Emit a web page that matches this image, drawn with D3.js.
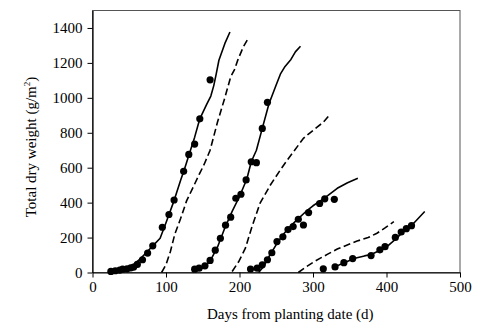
<!DOCTYPE html>
<html><head><meta charset="utf-8">
<script src="https://cdn.jsdelivr.net/npm/d3@7"></script>
<style>body{margin:0;background:#fff} svg text{font-family:'Liberation Serif','Times New Roman',serif}</style>
</head><body>
<svg id="c" width="496" height="330"></svg>
<script>
const xTicks = [0,100,200,300,400,500];
const yTicks = [0,200,400,600,800,1000,1200,1400];
const xTitle = "Days from planting date (d)";
const yTitle = "Total dry weight (g/m";

const obs1 = [[25,6],[31,10],[37,14],[41,19],[47,21],[52,27],[56,31],[61,46],[68,73],[75,111],[82,153],[95,259],[104,332],[111,415],[124,579],[131,676],[139,735],[146,880],[160,1103]];
const obs2 = [[139,19],[145,25],[153,38],[160,69],[167,128],[174,196],[181,271],[188,317],[195,425],[202,448],[209,530],[216,634],[223,629],[231,825],[238,974]];
const obs3 = [[215,20],[224,25],[231,44],[238,73],[244,113],[251,177],[259,204],[266,246],[273,263],[280,305],[287,272],[294,343],[309,395],[316,422],[329,419]];
const obs4 = [[314,21],[330,32],[342,56],[354,80],[379,97],[391,130],[398,148],[412,201],[420,232],[427,251],[434,268]];

const sim1 = [[25,0],[35,8],[45,20],[55,42],[65,78],[75,122],[85,165],[92,196],[100,285],[110,400],[120,530],[125,590],[131,670],[139,775],[146,880],[155,960],[161,1010],[165,1070],[168,1130],[172,1215],[180,1310],[187,1377]];
const dash1 = [[94,0],[100,45],[106,120],[112,220],[120,310],[128,410],[136,480],[145,560],[152,620],[160,700],[170,860],[180,1000],[188,1120],[193,1160],[198,1220],[205,1290],[211,1334]];
const sim2 = [[140,5],[150,25],[160,65],[170,145],[180,255],[190,350],[200,435],[210,535],[216,634],[223,700],[231,825],[240,965],[250,1075],[256,1139],[262,1180],[270,1220],[276,1263],[283,1295]];
const dash2 = [[190,6],[199,63],[208,139],[217,263],[228,397],[242,501],[256,590],[265,644],[275,700],[287,768],[296,800],[306,834],[314,860],[321,895]];
const sim3 = [[226,0],[232,30],[240,90],[250,160],[260,220],[270,268],[280,308],[290,348],[300,382],[310,410],[320,440],[333,482],[347,514],[361,539]];
const dash3 = [[280,0],[290,30],[300,58],[310,82],[320,105],[333,134],[345,155],[360,180],[375,200],[387,225],[398,255],[410,291]];
const sim4 = [[326,25],[340,52],[357,82],[370,95],[379,103],[390,125],[401,150],[412,190],[423,234],[437,282],[452,349]];

const svg = d3.select("#c");
const x = d3.scaleLinear().domain([0,500]).range([92.5,460]);
const y = d3.scaleLinear().domain([0,1500]).range([272.5,10.5]);
const font = "'Liberation Serif', 'Times New Roman', serif";

svg.append("rect").attr("x",x(0)).attr("y",y(1500)).attr("width",x(500)-x(0)).attr("height",y(0)-y(1500))
  .attr("fill","none").attr("stroke","#555").attr("stroke-width",1);

const xa = svg.append("g").attr("transform",`translate(0,${y(0)})`)
  .call(d3.axisBottom(x).tickValues(xTicks).tickFormat(d3.format("d")).tickSize(5).tickPadding(4).tickSizeOuter(0));
const ya = svg.append("g").attr("transform",`translate(${x(0)},0)`)
  .call(d3.axisLeft(y).tickValues(yTicks).tickFormat(d3.format("d")).tickSize(5).tickPadding(5).tickSizeOuter(0));
[xa,ya].forEach(a=>{
  a.attr("font-family",font).attr("font-size",15);
  a.selectAll("text").style("font-family",font).style("font-size","15px").attr("fill","#000");
  a.selectAll("line").attr("stroke","#000");
  a.select(".domain").attr("stroke","#000").attr("stroke-width",1.2);
});

const line = d3.line().x(d=>x(d[0])).y(d=>y(d[1]));
[sim1,sim2,sim3,sim4].forEach(s=>{
  svg.append("path").datum(s).attr("d",line).attr("fill","none").attr("stroke","#000")
    .attr("stroke-width",1.6).attr("stroke-linejoin","round");
});
[dash1,dash2,dash3].forEach(s=>{
  svg.append("path").datum(s).attr("d",line).attr("fill","none").attr("stroke","#000").attr("stroke-width",1.6)
    .attr("stroke-dasharray","7,3.5");
});
[obs1,obs2,obs3,obs4].forEach(s=>{
  svg.append("g").selectAll("circle").data(s).join("circle")
    .attr("cx",d=>x(d[0])).attr("cy",d=>y(d[1])).attr("r",3.6).attr("fill","#000");
});

svg.append("text").attr("x",(x(0)+x(500))/2+14).attr("y",319).attr("text-anchor","middle")
  .style("font-family",font).attr("font-size",15).text(xTitle);
const yt = svg.append("text").attr("transform","translate(36,147) rotate(-90)").attr("text-anchor","middle")
  .style("font-family",font).attr("font-size",15);
yt.append("tspan").text(yTitle);
yt.append("tspan").attr("font-size",9).attr("dy",-6).text("2");
yt.append("tspan").attr("dy",6).text(")");
</script>
</body></html>
